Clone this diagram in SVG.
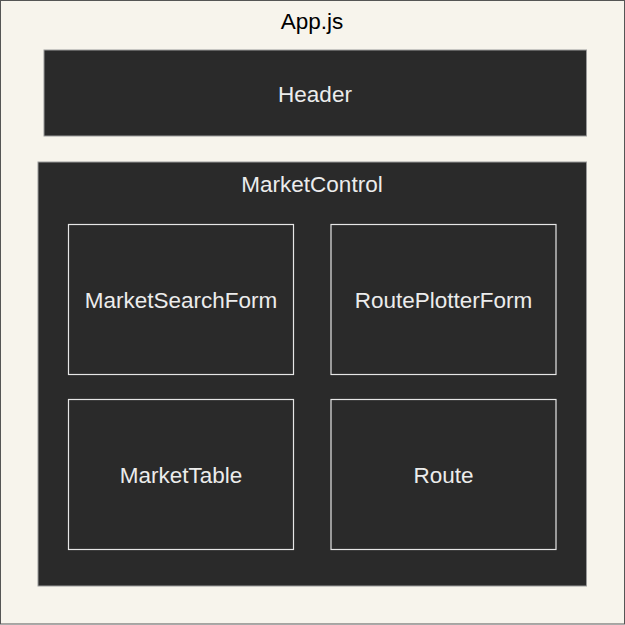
<svg xmlns="http://www.w3.org/2000/svg" width="625" height="625" viewBox="0 0 625 625">
<style>
text{font-family:"Liberation Sans",Arial,sans-serif;font-size:22.5px;text-anchor:middle}
.lt{fill:#ececec}
.dk{fill:#2a2a2a;stroke:#9a9a9a;stroke-width:1}
.box{fill:#2a2a2a;stroke:#e6e6e6;stroke-width:1.2}
</style>
<g id="app">
<rect x="0.5" y="0.5" width="624" height="623.5" fill="#f7f4ec" stroke="#555" stroke-width="1"/>
<text x="312" y="29" fill="#000">App.js</text>
</g>
<g id="header">
<rect class="dk" x="44" y="50" width="542.5" height="86"/>
<text class="lt" x="315" y="102">Header</text>
</g>
<g id="marketcontrol">
<rect class="dk" x="38" y="162" width="548.5" height="424"/>
<text class="lt" x="312" y="192">MarketControl</text>
</g>
<g id="marketsearchform">
<rect class="box" x="68.5" y="224.5" width="225" height="150"/>
<text class="lt" x="181" y="308">MarketSearchForm</text>
</g>
<g id="routeplotterform">
<rect class="box" x="331" y="224.5" width="225" height="150"/>
<text class="lt" x="443.5" y="308">RoutePlotterForm</text>
</g>
<g id="markettable">
<rect class="box" x="68.5" y="399.5" width="225" height="150"/>
<text class="lt" x="181" y="483">MarketTable</text>
</g>
<g id="route">
<rect class="box" x="331" y="399.5" width="225" height="150"/>
<text class="lt" x="443.5" y="483">Route</text>
</g>
<g id="connectors"/>
</svg>
